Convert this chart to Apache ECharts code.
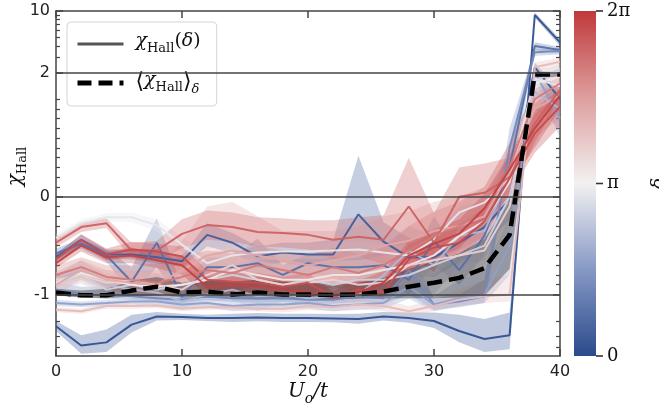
<!DOCTYPE html>
<html><head><meta charset="utf-8">
<script src="https://cdn.jsdelivr.net/npm/echarts@6/dist/echarts.min.js"></script>
<style>html,body{margin:0;padding:0;background:#fff}#c{width:659px;height:412px}</style>
</head><body><div id="c"></div>
<script>
// ---------- data ----------
const X = [0,2,4,6,8,10,12,14,16,18,20,22,24,26,28,30,32,34,36,38,40];
const yTicks = [-1,0,2,10];
const yMinor = [-4,-3,-2,-0.9,-0.8,-0.7,-0.6,-0.5,-0.4,-0.3,-0.2,-0.1,0.1,0.2,0.3,0.4,0.5,0.6,0.7,0.8,0.9,1,3,4,5,6,7,8,9];
const xTicks = [0,10,20,30,40];
const cbarTicks = [0, Math.PI, 2*Math.PI];
const cbarLabels = ['0','π','2π'];
// delta of each curve, as a fraction of 2π
const deltaFrac = [0.02,0.06,0.12,0.2,0.27,0.34,0.41,0.47,0.53,0.6,0.66,0.72,0.9,0.95,0.84,0.98];

const s0 = [-2.3,-3.8,-3.5,-2.2,-1.78,-1.8,-1.85,-1.85,-1.82,-1.85,-1.85,-1.87,-1.9,-1.78,-1.85,-2.0,-2.6,-3.2,-2.9,9.0,4.4];
const s1 = [-0.62,-0.44,-0.59,-0.59,-0.62,-0.66,-0.39,-0.47,-0.61,-0.57,-0.59,-0.59,-0.18,-0.46,-0.62,-0.62,-0.47,-0.31,-0.03,2.3,1.0];
const s2 = [-0.58,-0.48,-0.6,-0.87,-0.47,-1.07,-0.72,-0.72,-0.68,-0.8,-0.68,-0.72,-0.72,-0.7,-0.85,-0.45,-0.75,-0.4,0.3,4.0,3.6];
const s3 = [-0.95,-1.0,-1.02,-1.05,-1.1,-1.15,-1.05,-1.1,-1.12,-1.1,-1.15,-1.15,-1.05,-1.1,-0.75,-1.3,-1.2,-1.05,0.5,3.4,3.5];
const s4 = [-1.25,-1.3,-1.25,-1.2,-1.2,-1.3,-1.25,-1.35,-1.3,-1.3,-1.25,-1.35,-1.3,-1.25,-0.92,-1.3,-1.1,-1.0,-0.5,2.0,0.8];
const s5 = [-0.85,-0.75,-0.9,-0.95,-0.98,-1.2,-1.0,-0.95,-1.05,-1.0,-1.1,-1.05,-1.0,-0.8,-0.55,-0.7,-0.4,-0.35,0.2,1.2,0.9];
const s6 = [-0.9,-0.8,-0.95,-0.9,-0.95,-0.9,-0.85,-0.8,-0.85,-0.9,-0.85,-0.9,-0.85,-0.85,-0.8,-0.7,-0.6,-0.5,0.0,1.6,2.2];
const s7 = [-0.42,-0.27,-0.21,-0.21,-0.29,-0.49,-0.68,-0.6,-0.57,-0.56,-0.56,-0.55,-0.54,-0.57,-0.6,-0.44,-0.16,-0.06,0.19,1.7,1.4];
const s8 = [-0.88,-0.78,-0.85,-0.9,-0.92,-0.9,-0.85,-0.75,-0.8,-0.85,-0.85,-0.8,-0.8,-0.75,-0.7,-0.6,-0.4,-0.25,0.15,1.5,1.8];
const s9 = [-0.85,-0.8,-0.88,-0.85,-0.9,-0.95,-0.8,-0.7,-0.85,-0.9,-0.88,-0.85,-0.9,-0.88,-0.7,-0.65,-0.6,-0.55,-0.1,1.9,2.0];
const s10 = [-1.49,-1.55,-1.35,-1.35,-1.33,-1.45,-1.4,-1.4,-1.45,-1.45,-1.35,-1.4,-1.3,-1.35,-1.55,-1.35,-1.15,-1.05,-1.0,2.3,2.65];
const s11 = [-0.9,-0.75,-0.85,-0.88,-0.9,-0.75,-0.6,-0.55,-0.6,-0.65,-0.7,-0.65,-0.6,-0.5,-0.45,-0.35,-0.3,-0.2,0.25,0.9,1.1];
const s12 = [-0.47,-0.31,-0.27,-0.55,-0.55,-0.38,-0.29,-0.31,-0.36,-0.37,-0.39,-0.44,-0.41,-0.44,-0.1,-0.47,0.0,0.04,0.2,0.75,1.27];
const s13 = [-0.64,-0.44,-0.59,-0.54,-0.56,-0.61,-0.85,-0.87,-0.88,-0.92,-0.88,-1.07,-0.95,-0.97,-0.64,-0.52,-0.47,-0.25,0.19,0.65,0.92];
const s14 = [-0.8,-0.72,-0.82,-0.85,-0.88,-0.82,-0.75,-0.78,-0.7,-0.75,-0.8,-0.72,-0.78,-0.7,-0.55,-0.4,-0.3,-0.15,0.3,1.0,1.5];
const s15 = [-0.68,-0.5,-0.62,-0.6,-0.65,-0.7,-0.92,-0.9,-0.92,-0.95,-0.98,-1.02,-0.98,-0.88,-0.6,-0.48,-0.38,-0.12,0.28,0.7,1.1];

const e0 = [0.3,0.9,1.0,0.5,0.2,0.15,0.15,0.2,0.2,0.2,0.2,0.2,0.25,0.2,0.25,0.4,0.9,1.3,1.3,0.6,0.4];
const e1 = [0.04,0.05,0.05,0.05,0.06,0.06,0.12,0.1,0.1,0.1,0.12,0.15,0.6,0.2,0.2,0.2,0.2,0.2,0.2,0.3,0.2];
const e2 = [0.05,0.05,0.06,0.15,0.25,0.15,0.1,0.1,0.25,0.1,0.1,0.1,0.1,0.15,0.15,0.25,0.15,0.2,0.2,0.4,0.3];
const e3 = [0.08,0.08,0.1,0.1,0.1,0.1,0.1,0.12,0.12,0.12,0.12,0.12,0.15,0.2,0.25,0.2,0.2,0.2,0.2,0.3,0.3];
const e4 = [0.1,0.1,0.1,0.1,0.15,0.15,0.15,0.2,0.2,0.2,0.2,0.2,0.2,0.2,0.2,0.25,0.25,0.25,0.3,0.3,0.2];
const e5 = [0.08,0.1,0.1,0.12,0.2,0.25,0.2,0.2,0.5,0.2,0.2,0.2,0.25,0.25,0.25,0.3,0.3,0.3,0.3,0.3,0.2];
const e6 = [0.08,0.08,0.1,0.1,0.12,0.12,0.12,0.15,0.15,0.15,0.15,0.15,0.15,0.15,0.2,0.2,0.2,0.2,0.2,0.3,0.3];
const e7 = [0.04,0.04,0.04,0.05,0.06,0.08,0.08,0.08,0.08,0.08,0.08,0.08,0.08,0.08,0.1,0.1,0.1,0.1,0.15,0.2,0.2];
const e8 = [0.08,0.08,0.1,0.1,0.12,0.12,0.12,0.15,0.15,0.15,0.15,0.15,0.15,0.15,0.2,0.2,0.2,0.2,0.2,0.3,0.3];
const e9 = [0.08,0.1,0.1,0.1,0.12,0.15,0.2,0.25,0.2,0.2,0.2,0.2,0.25,0.25,0.25,0.25,0.25,0.2,0.2,0.3,0.3];
const e10 = [0.1,0.1,0.1,0.1,0.1,0.1,0.1,0.1,0.1,0.15,0.15,0.15,0.15,0.2,0.2,0.2,0.2,0.2,0.2,0.3,0.3];
const e11 = [0.1,0.1,0.1,0.12,0.15,0.3,0.5,0.5,0.4,0.3,0.35,0.3,0.3,0.3,0.3,0.3,0.3,0.3,0.3,0.3,0.3];
const e12 = [0.05,0.05,0.05,0.08,0.1,0.15,0.15,0.15,0.15,0.15,0.15,0.2,0.2,0.25,0.5,0.3,0.3,0.3,0.2,0.2,0.2];
const e13 = [0.05,0.06,0.06,0.08,0.08,0.1,0.1,0.1,0.1,0.1,0.1,0.1,0.12,0.12,0.15,0.15,0.15,0.15,0.15,0.2,0.2];
const e14 = [0.1,0.1,0.12,0.15,0.2,0.2,0.2,0.2,0.2,0.2,0.2,0.2,0.2,0.2,0.25,0.25,0.25,0.25,0.25,0.3,0.3];
const e15 = [0.05,0.06,0.06,0.08,0.08,0.1,0.1,0.1,0.1,0.1,0.1,0.1,0.12,0.12,0.15,0.15,0.15,0.15,0.15,0.2,0.2];

const meanVals = [-0.98,-1.02,-1.02,-0.96,-0.92,-0.98,-0.97,-1.0,-0.98,-1.0,-1.0,-1.01,-1.0,-0.97,-0.92,-0.88,-0.83,-0.73,-0.39,1.9,1.9];
const meanErr = [0.04,0.06,0.08,0.1,0.1,0.1,0.12,0.13,0.13,0.13,0.12,0.12,0.12,0.14,0.18,0.22,0.25,0.3,0.35,0.15,0.12];

const curves = [s0,s1,s2,s3,s4,s5,s6,s7,s8,s9,s10,s11,s12,s13,s14,s15];
const errs = [e0,e1,e2,e3,e4,e5,e6,e7,e8,e9,e10,e11,e12,e13,e14,e15];

// ---------- styling helpers ----------
const CMAP = [[0,[43,74,140]],[0.25,[134,152,197]],[0.5,[242,241,241]],[0.75,[222,158,158]],[1,[192,57,59]]];
function cmap(t){
  for (let i=1;i<CMAP.length;i++){
    if (t<=CMAP[i][0]){
      const a=CMAP[i-1], b=CMAP[i], f=(t-a[0])/(b[0]-a[0]);
      return a[1].map((v,k)=>Math.round(v+(b[1][k]-v)*f));
    }
  }
  return CMAP[CMAP.length-1][1];
}
const rgba=(c,a)=>`rgba(${c[0]},${c[1]},${c[2]},${a})`;
// symmetric log scale (linthresh 1, linscale 1, base 10) as in matplotlib
const LS = 1/(1-1/10);
function T(v){ const a=Math.abs(v); return a<=1 ? v*LS : Math.sign(v)*(LS+Math.log10(a)); }
const YMIN = T(-5), YMAX = T(10);

function bandSeries(vals, err, fill){
  const pts = X.map((x,j)=>[x, T(vals[j]-err[j]), T(vals[j]+err[j])]);
  return {
    type:'custom', silent:true, clip:true, data:pts, encode:{x:0,y:[1,2]},
    renderItem:function(params, api){
      if (params.dataIndex!==0) return null;
      const up = pts.map(p=>api.coord([p[0],p[2]]));
      const lo = pts.map(p=>api.coord([p[0],p[1]])).reverse();
      return {type:'polygon', shape:{points:up.concat(lo)}, style:{fill:fill}};
    }
  };
}
function lineSeries(vals, color, extra){
  return Object.assign({
    type:'line', silent:true, symbol:'none', data:X.map((x,j)=>[x,T(vals[j])]),
    lineStyle:{color:color, width:2}, itemStyle:{color:color}
  }, extra||{});
}

const series = [];
curves.forEach((c,i)=>{
  const col = cmap(deltaFrac[i]);
  series.push(bandSeries(c, errs[i], rgba(col,0.3)));
  series.push(lineSeries(c, rgba(col,0.95)));
});
series.push(bandSeries(meanVals, meanErr, 'rgba(0,0,0,0.32)'));
// horizontal reference lines at the major ticks
series.push({type:'line', data:[], silent:true, markLine:{silent:true, symbol:'none', label:{show:false},
  lineStyle:{color:'#444', width:1.5, type:'solid'},
  data: yTicks.filter(v=>v<10).map(v=>({yAxis:T(v)}))}});
// legend-only series
series.push({name:'hall', type:'line', data:[], symbol:'none', lineStyle:{color:'#555', width:3}, itemStyle:{color:'#555'}});
series.push(lineSeries(meanVals, '#000', {name:'mean', lineStyle:{color:'#000', width:4.5, type:[15,7]}}));
// colorbar
const cbStops = CMAP.map(s=>({offset:s[0], color:rgba(s[1],1)}));
series.push({type:'bar', xAxisIndex:2, yAxisIndex:4, data:[2*Math.PI], barWidth:'100%', silent:true, z:1,
  itemStyle:{color:new echarts.graphic.LinearGradient(0,1,0,0,cbStops)}});

const AX = '#444';
const tickLabelFont = {fontFamily:'DejaVu Sans', fontSize:16, color:'#222'};
function tickName(v, arr){ let best=arr[0]; arr.forEach(a=>{ if (Math.abs(T(a)-v)<Math.abs(T(best)-v)) best=a; }); return String(best); }

const yBase = {type:'value', gridIndex:0, min:YMIN, max:YMAX, splitLine:{show:false}, axisLine:{show:true, onZero:false, lineStyle:{color:AX,width:1.5}}};
const option = {
  animation:false,
  backgroundColor:'#fff',
  textStyle:{fontFamily:'DejaVu Sans'},
  grid:[{left:56, top:11, width:504, height:345, outerBoundsMode:'none', containLabel:false},
        {left:574, top:11, width:22, height:345, outerBoundsMode:'none', containLabel:false}],
  legend:{
    left:67, top:22, orient:'vertical', itemWidth:46, itemHeight:14, itemGap:16,
    padding:[10,16,10,8], borderColor:'#d4d4d4', borderWidth:1, borderRadius:4,
    backgroundColor:'rgba(255,255,255,0.85)',
    itemStyle:{opacity:0},
    data:[{name:'hall', lineStyle:{width:3, color:'#555'}},
          {name:'mean', lineStyle:{width:5, type:[14,7], color:'#000'}}],
    formatter:function(n){ return n==='hall' ? '{i|χ}{s|Hall}{r|(}{i|δ}{r|)}' : '{b|⟨}{i|χ}{s|Hall}{b|⟩}{d|δ}'; },
    textStyle:{color:'#111', padding:[0,0,0,7], rich:{
      i:{fontFamily:'DejaVu Serif', fontStyle:'italic', fontSize:19, lineHeight:24, verticalAlign:'top'},
      r:{fontFamily:'DejaVu Serif', fontSize:19, lineHeight:24, verticalAlign:'top'},
      b:{fontFamily:'DejaVu Serif', fontSize:22, lineHeight:24, verticalAlign:'top'},
      s:{fontFamily:'DejaVu Serif', fontSize:13, lineHeight:13, padding:[10,0,0,0], verticalAlign:'top'},
      d:{fontFamily:'DejaVu Serif', fontStyle:'italic', fontSize:13, lineHeight:13, padding:[12,0,0,0], verticalAlign:'top'}
    }}
  },
  xAxis:[
    {type:'value', gridIndex:0, min:0, max:40, interval:10, position:'bottom',
     axisLine:{onZero:false, lineStyle:{color:AX,width:1.5}}, axisTick:{inside:true,length:7,lineStyle:{color:AX,width:1.5}},
     axisLabel:Object.assign({margin:8, customValues:xTicks}, tickLabelFont), splitLine:{show:false},
     name:'{i|U}{s|o}{i|/t}', nameLocation:'middle', nameGap:26, nameMoveOverlap:false,
     nameTextStyle:{rich:{
       i:{fontFamily:'DejaVu Serif', fontStyle:'italic', fontSize:20, lineHeight:24, verticalAlign:'top', color:'#111'},
       s:{fontFamily:'DejaVu Serif', fontStyle:'italic', fontSize:14, lineHeight:14, padding:[10,0,0,0], verticalAlign:'top', color:'#111'}}}},
    {type:'value', gridIndex:0, min:0, max:40, interval:10, position:'top',
     axisLine:{onZero:false, lineStyle:{color:AX,width:1.5}}, axisTick:{inside:true,length:7,lineStyle:{color:AX,width:1.5}},
     axisLabel:{show:false}, splitLine:{show:false}},
    {type:'category', gridIndex:1, data:['c'], show:false}
  ],
  yAxis:[
    Object.assign({}, yBase, {position:'left',
      axisTick:{inside:true,length:7,customValues:yTicks.map(T),lineStyle:{color:AX,width:1.5}},
      axisLabel:Object.assign({margin:6, customValues:yTicks.map(T), formatter:v=>tickName(v,yTicks)}, tickLabelFont),
      name:'{i|χ}{s|Hall}', nameLocation:'middle', nameGap:26, nameRotate:90, nameMoveOverlap:false,
      nameTextStyle:{padding:[0,0,0,34], rich:{
        i:{fontFamily:'DejaVu Serif', fontStyle:'italic', fontSize:20, lineHeight:24, verticalAlign:'top', color:'#111'},
        s:{fontFamily:'DejaVu Serif', fontSize:13, lineHeight:13, padding:[10,0,0,0], verticalAlign:'top', color:'#111'}}}}),
    Object.assign({}, yBase, {position:'left', axisLine:{show:false, onZero:false},
      axisTick:{inside:true,length:4,customValues:yMinor.map(T),lineStyle:{color:AX,width:1.2}},
      axisLabel:{show:false}}),
    Object.assign({}, yBase, {position:'right',
      axisTick:{inside:true,length:7,customValues:yTicks.map(T),lineStyle:{color:AX,width:1.5}},
      axisLabel:{show:false}}),
    Object.assign({}, yBase, {position:'right', axisLine:{show:false, onZero:false},
      axisTick:{inside:true,length:4,customValues:yMinor.map(T),lineStyle:{color:AX,width:1.2}},
      axisLabel:{show:false}}),
    {type:'value', gridIndex:1, min:0, max:2*Math.PI, interval:Math.PI, position:'right', splitLine:{show:false},
     z:10,
     axisLine:{show:false},
     axisTick:{show:false},
     axisLabel:{margin:0, color:'#111',
       formatter:v=>'{tk|}{l|'+cbarLabels[cbarTicks.findIndex(c=>Math.abs(c-v)<1e-6)]+'}',
       rich:{
         tk:{width:7, height:1.6, backgroundColor:'#333', verticalAlign:'middle'},
         l:{fontFamily:'DejaVu Serif', fontSize:18, color:'#111', padding:[0,0,0,4], verticalAlign:'middle'}
       }},
     name:'δ', nameLocation:'middle', nameRotate:90, nameGap:54, nameMoveOverlap:false,
     nameTextStyle:{fontFamily:'DejaVu Serif', fontStyle:'italic', fontSize:19, color:'#111'}}
  ],
  series: series
};
series.forEach(s=>{ if (s.xAxisIndex===undefined){ s.xAxisIndex=0; s.yAxisIndex=0; } });
const chart = echarts.init(document.getElementById('c'), null, {renderer:'canvas'});
chart.setOption(option);
</script></body></html>
